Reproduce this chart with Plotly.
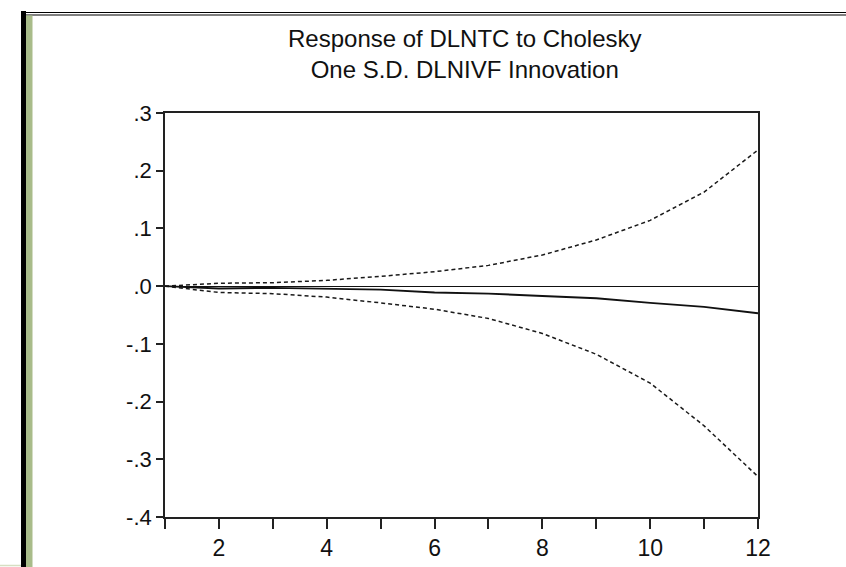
import plotly.graph_objects as go

periods = list(range(1, 13))
response = [0.0, -0.004, -0.003, -0.004, -0.006, -0.011, -0.013, -0.017, -0.021, -0.029, -0.036, -0.047]
upper = [0.0, 0.005, 0.006, 0.010, 0.017, 0.025, 0.036, 0.054, 0.080, 0.114, 0.163, 0.236]
lower = [0.0, -0.011, -0.013, -0.019, -0.029, -0.040, -0.056, -0.082, -0.118, -0.168, -0.242, -0.330]

ytick_vals = [0.3, 0.2, 0.1, 0.0, -0.1, -0.2, -0.3, -0.4]
ytick_text = [".3", ".2", ".1", ".0", "-.1", "-.2", "-.3", "-.4"]
xtick_vals = periods
xtick_text = [str(p) if p % 2 == 0 else "" for p in periods]

W, H = 846, 567
L, R, T, B = 165, 758, 113, 517


def px(x):
    return (x - L) / (R - L)


def py(y):
    return (B - y) / (B - T)


fig = go.Figure()
dash = "4px,3px"
fig.add_trace(go.Scatter(x=periods, y=upper, mode="lines",
                         line=dict(color="#1a1a1a", width=1.5, dash=dash)))
fig.add_trace(go.Scatter(x=periods, y=lower, mode="lines",
                         line=dict(color="#1a1a1a", width=1.5, dash=dash)))
fig.add_trace(go.Scatter(x=periods, y=response, mode="lines",
                         line=dict(color="#111111", width=1.9)))

shapes = [
    # top double line
    dict(type="line", xref="paper", yref="paper", x0=px(22), x1=px(846), y0=py(12.5), y1=py(12.5),
         line=dict(color="black", width=1.2)),
    dict(type="line", xref="paper", yref="paper", x0=px(22), x1=px(846), y0=py(15), y1=py(15),
         line=dict(color="black", width=1.2)),
    # left thick black line
    dict(type="line", xref="paper", yref="paper", x0=px(23.5), x1=px(23.5), y0=py(11), y1=py(567),
         line=dict(color="black", width=5)),
    # green strip
    dict(type="rect", xref="paper", yref="paper", x0=px(26), x1=px(32.5), y0=py(15.5), y1=py(567),
         line=dict(width=0), fillcolor="#a9bc8a"),
    # bottom-left thin line
    dict(type="line", xref="paper", yref="paper", x0=px(0), x1=px(21), y0=py(565.5), y1=py(565.5),
         line=dict(color="#d6dfc2", width=1.5)),
]

fig.update_layout(
    width=W, height=H,
    margin=dict(l=L, r=W - R, t=T, b=H - B, autoexpand=False),
    paper_bgcolor="white", plot_bgcolor="white",
    showlegend=False,
    shapes=shapes,
    font=dict(family="Liberation Sans, Arial, sans-serif", color="#111111"),
    annotations=[
        dict(text="Response of DLNTC to Cholesky<br>One S.D. DLNIVF Innovation",
             xref="paper", yref="paper", x=px(464), y=py(23), xanchor="center", yanchor="top",
             showarrow=False, align="center", font=dict(size=24, color="#111111")),
    ],
)
fig.update_xaxes(range=[1, 12], tickvals=xtick_vals, ticktext=xtick_text,
                 ticks="outside", ticklen=10, tickwidth=1.6, tickcolor="#222",
                 showline=True, linecolor="#222", linewidth=1.6, mirror=True, automargin=False,
                 showgrid=False, zeroline=False, tickfont=dict(size=23))
fig.update_yaxes(range=[-0.4, 0.3], tickvals=ytick_vals, ticktext=ytick_text,
                 ticks="outside", ticklen=7, tickwidth=1.6, tickcolor="#222",
                 showline=True, linecolor="#222", linewidth=1.6, mirror=True, automargin=False,
                 showgrid=False, zeroline=True, zerolinecolor="#111", zerolinewidth=1.3,
                 tickfont=dict(size=22))

fig.write_html("out.html")
